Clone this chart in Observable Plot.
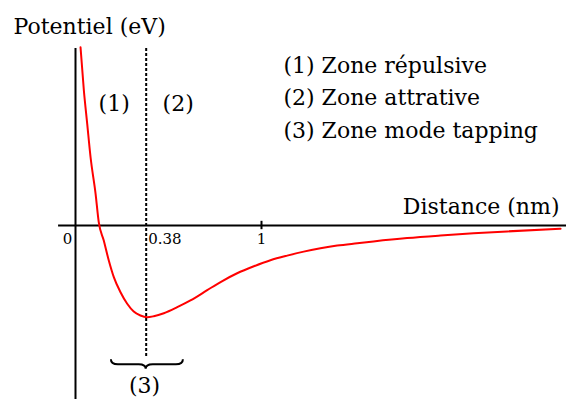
<!DOCTYPE html>
<html><head><meta charset="utf-8">
<script src="https://cdn.jsdelivr.net/npm/d3@7"></script>
<script src="https://cdn.jsdelivr.net/npm/@observablehq/plot@0.6"></script>
<style>body{margin:0;background:#fff}</style>
</head><body><div id="chart"></div>
<script>
// Potential curve: distance (nm), potential (arbitrary eV units, min = -1)
const distance = [0.027,0.045,0.063,0.081,0.108,0.125,0.152,0.179,0.206,0.242,0.278,0.313,0.349,0.385,0.421,0.475,0.547,0.618,0.708,0.780,0.869,0.959,1.048,1.138,1.227,1.317,1.407,1.515,1.602,1.783,1.962,2.140,2.321,2.608];
const potential = [1.959,1.484,1.117,0.750,0.348,0.036,-0.165,-0.385,-0.568,-0.733,-0.860,-0.945,-0.989,-1.008,-0.997,-0.964,-0.898,-0.824,-0.711,-0.621,-0.525,-0.448,-0.382,-0.331,-0.287,-0.251,-0.221,-0.195,-0.175,-0.138,-0.110,-0.086,-0.065,-0.036];
const tickValues = [0, 0.38, 1];
const tickLabels = ["0", "0.38", "1"];
const equilibrium = 0.38;
const zone3 = [0.193, 0.58];
const legendLines = ["(1) Zone répulsive", "(2) Zone attrative", "(3) Zone mode tapping"];
const zoneLabels = ["(1)", "(2)"];

const curve = distance.map((d, i) => ({d, u: potential[i]}));
const font = "DejaVu Serif";
const W = 566, H = 399;

const brace = (index, scales) => {
  const x0 = scales.x(zone3[0]), x1 = scales.x(zone3[1]), xm = scales.x(equilibrium);
  const yt = scales.y(-1.474), ym = scales.y(-1.53), yb = scales.y(-1.58);
  const r = 7;
  const p = d3.path();
  p.moveTo(x0, yt);
  p.quadraticCurveTo(x0, ym, x0 + r, ym);
  p.lineTo(xm - r, ym);
  p.quadraticCurveTo(xm, ym, xm, yb);
  p.quadraticCurveTo(xm, ym, xm + r, ym);
  p.lineTo(x1 - r, ym);
  p.quadraticCurveTo(x1, ym, x1, yt);
  const el = document.createElementNS("http://www.w3.org/2000/svg", "path");
  el.setAttribute("d", p.toString());
  el.setAttribute("fill", "none");
  el.setAttribute("stroke", "black");
  el.setAttribute("stroke-width", 2);
  return el;
};

const txt = {fontFamily: font, fill: "black"};

const chart = Plot.plot({
  width: W, height: H,
  margin: 0,
  style: {background: "white", fontFamily: font},
  x: {domain: [-75/186, 491/186], axis: null},
  y: {domain: [-174/91, 225/91], axis: null},
  marks: [
    Plot.ruleY([0], {x1: -0.091, x2: 2.64, stroke: "black", strokeWidth: 2}),
    Plot.ruleX([0], {y1: 1.945, y2: -1.95, stroke: "black", strokeWidth: 2}),
    Plot.ruleX([1], {y1: 0.046, y2: -0.046, stroke: "black", strokeWidth: 2}),
    Plot.ruleX([equilibrium], {y1: 1.945, y2: -1.44, stroke: "black", strokeWidth: 2, strokeDasharray: "3,2"}),
    Plot.line(curve, {x: "d", y: "u", stroke: "#ff0000", strokeWidth: 2, curve: "monotone-x"}),
    Plot.text([tickValues[0]], {x: d => d, y: -0.148, text: () => tickLabels[0], textAnchor: "middle", dx: -8, fontSize: 15, ...txt}),
    Plot.text([tickValues[1]], {x: d => d, y: -0.148, text: () => tickLabels[1], textAnchor: "start", dx: 2, fontSize: 15, ...txt}),
    Plot.text([tickValues[2]], {x: d => d, y: -0.148, text: () => tickLabels[2], textAnchor: "middle", fontSize: 15, ...txt}),
    Plot.text(["Potentiel (eV)"], {x: -0.333, y: 2.184, textAnchor: "start", fontSize: 22, ...txt}),
    Plot.text(["Distance (nm)"], {x: 2.602, y: 0.205, textAnchor: "end", fontSize: 22, ...txt}),
    Plot.text(zoneLabels, {x: [0.124, 0.468], y: 1.337, textAnchor: "start", fontSize: 22, ...txt}),
    Plot.text(legendLines, {x: 1.118, y: [1.755, 1.403, 1.044], textAnchor: "start", fontSize: 22, ...txt}),
    Plot.text(["(3)"], {x: 0.371, y: -1.762, textAnchor: "middle", fontSize: 22, ...txt}),
    brace
  ]
});
document.getElementById("chart").appendChild(chart);
</script>
</body></html>
